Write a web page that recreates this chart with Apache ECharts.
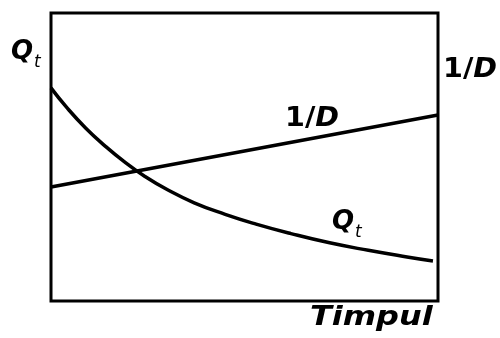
<!DOCTYPE html>
<html>
<head>
<meta charset="utf-8">
<script src="https://cdn.jsdelivr.net/npm/echarts@6/dist/echarts.min.js"></script>
<style>
  html, body { margin: 0; padding: 0; background: #fff; }
  #chart { width: 500px; height: 338px; }
</style>
</head>
<body>
<div id="chart"></div>
<script>
  // time axis has no ticks, values are on a 0..100 scale
  const qtTime = [0, 4, 9, 14, 19, 24, 30, 37, 45, 53, 62, 72, 82, 92, 98.7]
  const qtValues = [74, 67.3, 60.0, 53.8, 48.3, 43.5, 38.7, 34.1, 30.1, 26.7, 23.4, 20.2, 17.6, 15.3, 13.9]
  const invDTime = [0, 100]
  const invDValues = [39.6, 64.6]

  const font = '"DejaVu Sans", sans-serif'
  const chart = echarts.init(document.getElementById('chart'))

  function pairs(xs, ys) {
    return xs.map((x, i) => [x, ys[i]])
  }

  function qtLabel(x, y) {
    return {
      type: 'text', x: x, y: y,
      style: {
        text: '{q|Q}{s|t}',
        rich: {
          q: { font: 'italic bold 26px ' + font, fill: '#000' },
          s: { font: 'italic 17px ' + font, fill: '#000', padding: [20, 0, 0, 1] }
        }
      }
    }
  }

  function invDLabel(x, y) {
    return {
      type: 'text', x: x, y: y, scaleX: 1.1,
      style: {
        text: '{a|1/}{d|D}',
        rich: {
          a: { font: 'bold 26px ' + font, fill: '#000' },
          d: { font: 'italic bold 26px ' + font, fill: '#000' }
        }
      }
    }
  }

  chart.setOption({
    animation: false,
    backgroundColor: '#fff',
    grid: {
      left: 51,
      right: 62,
      top: 13,
      bottom: 37,
      show: true,
      borderColor: '#000',
      borderWidth: 3
    },
    xAxis: {
      type: 'value',
      min: 0,
      max: 100,
      axisLine: { show: false },
      axisTick: { show: false },
      axisLabel: { show: false },
      splitLine: { show: false }
    },
    yAxis: {
      type: 'value',
      min: 0,
      max: 100,
      axisLine: { show: false },
      axisTick: { show: false },
      axisLabel: { show: false },
      splitLine: { show: false }
    },
    series: [
      {
        name: 'Qt',
        type: 'line',
        smooth: true,
        symbol: 'none',
        lineStyle: { color: '#000', width: 3.5 },
        data: pairs(qtTime, qtValues)
      },
      {
        name: '1/D',
        type: 'line',
        symbol: 'none',
        lineStyle: { color: '#000', width: 3.5 },
        data: pairs(invDTime, invDValues)
      }
    ],
    graphic: [
      qtLabel(11, 34),
      invDLabel(443, 57),
      invDLabel(285, 106),
      qtLabel(332, 204),
      {
        type: 'text', x: 310, y: 305, scaleX: 1.23,
        style: {
          text: 'Timpul',
          font: 'italic bold 26px ' + font,
          fill: '#000'
        }
      }
    ]
  })
</script>
</body>
</html>
